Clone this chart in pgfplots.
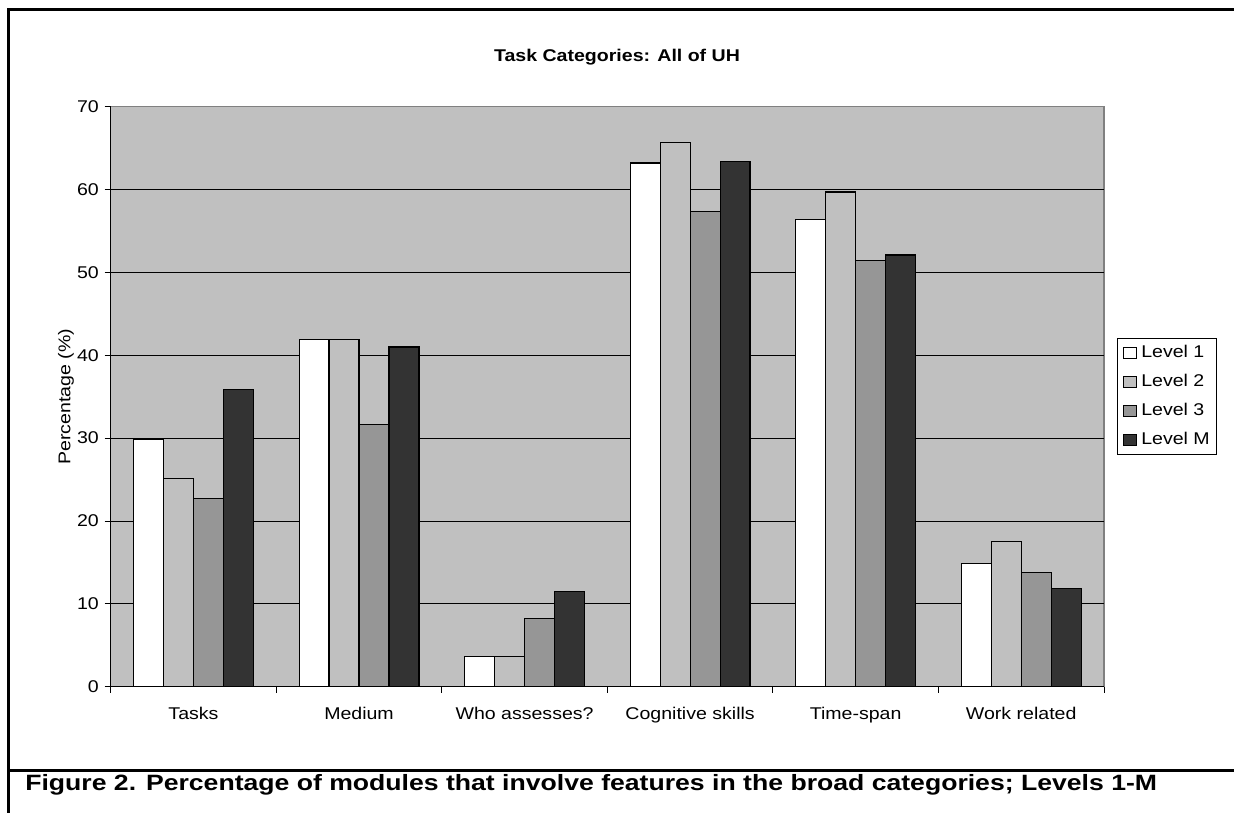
\documentclass[border=0pt]{standalone}
\usepackage{fontspec}
\setmainfont{Liberation Sans}[FakeStretch=1.15]
\newfontfamily\capfont{Liberation Sans}[FakeStretch=1.2]
\usepackage{pgfplots}
\pgfplotsset{compat=1.18}
\definecolor{bg}{HTML}{C0C0C0}
\definecolor{lthree}{HTML}{969696}
\definecolor{lm}{HTML}{333333}
\definecolor{frameg}{HTML}{808080}
\begin{document}
\begin{tikzpicture}
\path[use as bounding box] (0,0) rectangle (740.4pt,-487.2pt);
\begin{axis}[
  at={(66.42pt,-412.02pt)}, anchor=south west,
  scale only axis, width=595.98pt, height=348pt,
  xmin=0, xmax=6, ymin=0, ymax=70,
  axis lines=left, axis line style={-, black, line width=0.7pt},
  axis background/.style={fill=bg, draw=frameg, line width=0.8pt},
  ybar=0pt, bar width=0.181,
  ytick={0,10,...,60}, extra y ticks={70}, extra y tick style={grid=none},
  ymajorgrids, grid style={black, line width=0.6pt},
  tick align=outside, major tick length=3.6pt, minor tick length=3.6pt,
  tick style={black, line width=0.6pt},
  xtick={0.5,1.5,...,5.5},
  xticklabels={Tasks, Medium, Who assesses?, Cognitive skills, Time-span, Work related},
  major x tick style={draw=none},
  minor xtick={0,1,...,6},
  x tick label style={yshift=-5pt},
  ticklabel style={font=\fontsize{10.2}{12}\selectfont},
  /pgf/number format/assume math mode=true,
  ylabel={Percentage (\%)},
  ylabel style={at={(axis description cs:-0.045,0.5)}, anchor=center, font=\fontsize{10.2}{12}\selectfont},
  legend style={at={(axis description cs:1.0131,0.5)}, anchor=west, draw=black, fill=white,
    line width=0.6pt, font=\fontsize{10.2}{12}\selectfont, row sep=6.3pt, column sep=1.5pt, inner sep=3pt,
    nodes={inner sep=1pt, text height=7.2pt, text depth=2pt}},
  legend cell align=left,
  legend image code/.code={\draw[#1, draw=black, line width=0.6pt] (0pt,-3.3pt) rectangle (8.2pt,3.3pt);},
]
\addplot[fill=white, draw=black, line width=0.7pt] coordinates {(0.5,29.9) (1.5,41.9) (2.5,3.6) (3.5,63.2) (4.5,56.4) (5.5,14.9)};
\addplot[fill=bg, draw=black, line width=0.7pt] coordinates {(0.5,25.1) (1.5,41.9) (2.5,3.6) (3.5,65.7) (4.5,59.7) (5.5,17.5)};
\addplot[fill=lthree, draw=black, line width=0.7pt] coordinates {(0.5,22.7) (1.5,31.6) (2.5,8.2) (3.5,57.4) (4.5,51.4) (5.5,13.8)};
\addplot[fill=lm, draw=black, line width=0.7pt] coordinates {(0.5,35.9) (1.5,41.0) (2.5,11.5) (3.5,63.4) (4.5,52.1) (5.5,11.9)};
\legend{Level 1, Level 2, Level 3, Level M}
\end{axis}
\node[font=\bfseries\fontsize{10.2}{12}\selectfont] at (370.2pt,-34.2pt) {Task Categories: All of UH};
\draw[line width=1.8pt] (745pt,-5.4pt) -- (4.8pt,-5.4pt) -- (4.8pt,-492pt);
\draw[line width=1.8pt] (4.8pt,-462pt) -- (745pt,-462pt);
\node[anchor=base west, font=\capfont\bfseries\fontsize{13.3}{15}\selectfont, inner sep=0pt] at (15pt,-474pt) {Figure 2. Percentage of modules that involve features in the broad categories; Levels 1-M};
\end{tikzpicture}
\end{document}
